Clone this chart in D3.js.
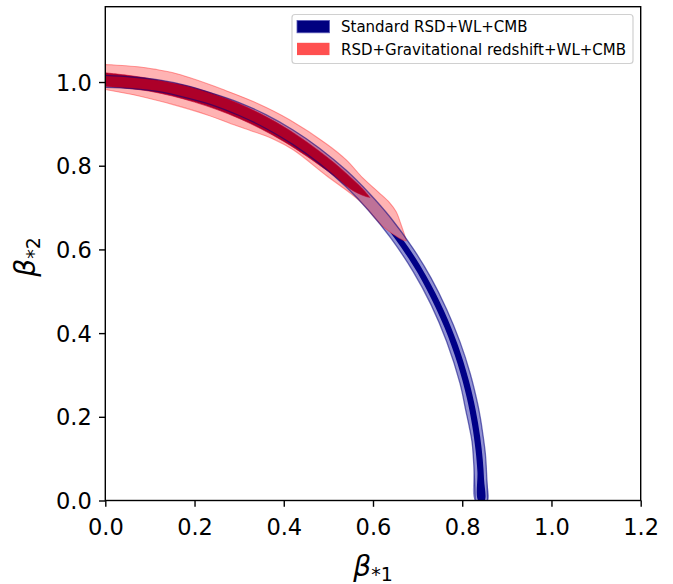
<!DOCTYPE html>
<html>
<head>
<meta charset="utf-8">
<script src="https://cdn.jsdelivr.net/npm/d3@7"></script>
<style>
  html, body { margin: 0; padding: 0; background: #ffffff; }
  svg { display: block; }
  text { font-family: "DejaVu Sans", sans-serif; }
</style>
</head>
<body>
<svg id="chart" width="673" height="584"></svg>
<script>
// ---------- data ----------
const xTicks = [0.0, 0.2, 0.4, 0.6, 0.8, 1.0, 1.2];
const yTicks = [0.0, 0.2, 0.4, 0.6, 0.8, 1.0];
const seriesNames = ["Standard RSD+WL+CMB", "RSD+Gravitational redshift+WL+CMB"];

// Standard RSD+WL+CMB: 95% contour (outer / inner boundary) and 68% contour
const blue95Outer = [[0.000,1.016],[0.060,1.012],[0.120,1.005],[0.180,0.992],[0.240,0.973],[0.300,0.951],[0.360,0.922],[0.420,0.886],[0.480,0.842],[0.540,0.789],[0.590,0.736],[0.640,0.675],[0.690,0.602],[0.730,0.532],[0.765,0.457],[0.795,0.379],[0.818,0.303],[0.835,0.229],[0.841,0.195],[0.846,0.160],[0.852,0.110],[0.855,0.055],[0.857,0.000]];
const blue95Inner = [[0.000,0.987],[0.060,0.984],[0.120,0.977],[0.180,0.963],[0.240,0.945],[0.300,0.920],[0.360,0.889],[0.420,0.851],[0.480,0.805],[0.540,0.749],[0.590,0.693],[0.640,0.627],[0.690,0.547],[0.730,0.468],[0.765,0.380],[0.795,0.280],[0.808,0.215],[0.816,0.175],[0.822,0.140],[0.826,0.084],[0.829,0.000]];
const blue68Outer = [[0.000,1.007],[0.100,1.000],[0.200,0.979],[0.300,0.942],[0.400,0.888],[0.500,0.814],[0.560,0.758],[0.620,0.689],[0.680,0.604],[0.720,0.535],[0.760,0.451],[0.790,0.372],[0.815,0.286],[0.830,0.217],[0.840,0.154],[0.846,0.098],[0.849,0.049],[0.850,0.000]];
const blue68Inner = [[0.000,0.993],[0.100,0.986],[0.200,0.964],[0.300,0.927],[0.400,0.872],[0.500,0.796],[0.560,0.737],[0.620,0.666],[0.680,0.578],[0.720,0.505],[0.760,0.414],[0.790,0.325],[0.810,0.246],[0.822,0.181],[0.830,0.119],[0.834,0.069],[0.836,0.000]];

// RSD+Gravitational redshift+WL+CMB: 95% and 68% contours (upper / lower boundary)
const red95Upper = [[0.000,1.042],[0.078,1.036],[0.115,1.030],[0.152,1.022],[0.190,1.010],[0.264,0.982],[0.339,0.950],[0.413,0.910],[0.496,0.852],[0.540,0.814],[0.577,0.771],[0.612,0.737],[0.637,0.712],[0.652,0.690],[0.663,0.659],[0.671,0.634],[0.675,0.621]];
const red95Lower = [[0.000,0.982],[0.078,0.966],[0.152,0.946],[0.227,0.922],[0.301,0.893],[0.376,0.864],[0.421,0.838],[0.496,0.776],[0.570,0.716],[0.622,0.655],[0.650,0.633],[0.668,0.622],[0.675,0.621]];
const red68Upper = [[0.000,1.022],[0.050,1.016],[0.100,1.008],[0.200,0.986],[0.300,0.948],[0.400,0.893],[0.500,0.818],[0.550,0.772],[0.580,0.741],[0.593,0.724]];
const red68Lower = [[0.000,0.990],[0.100,0.978],[0.200,0.952],[0.300,0.913],[0.400,0.858],[0.500,0.786],[0.550,0.744],[0.580,0.728],[0.593,0.724]];

// ---------- layout ----------
const svg = d3.select("#chart");
const margin = {left: 105.3, right: 673 - 640.7, top: 6.7, bottom: 584 - 500.5};
const W = 673, H = 584;
const x = d3.scaleLinear().domain([0, 1.2]).range([margin.left, W - margin.right]);
const y = d3.scaleLinear().domain([0, 1.18]).range([H - margin.bottom, margin.top]);

const defs = svg.append("defs");
defs.append("clipPath").attr("id", "plotclip")
  .append("rect")
  .attr("x", x(0)).attr("y", y(1.18))
  .attr("width", x(1.2) - x(0)).attr("height", y(0) - y(1.18));

const smooth = d3.line().x(d => x(d[0])).y(d => y(d[1])).curve(d3.curveCatmullRom.alpha(0.5));
const band = (a, b) => smooth(a.concat(b.slice().reverse())) + "Z";
const openLine = pts => smooth(pts);

const red95Path = band(red95Upper, red95Lower);

// mask: the navy 68% region is hidden where the red 95% region lies on top
const mask = defs.append("mask").attr("id", "redmask").attr("maskUnits", "userSpaceOnUse")
  .attr("x", 0).attr("y", 0).attr("width", W).attr("height", H);
mask.append("rect").attr("x", 0).attr("y", 0).attr("width", W).attr("height", H).attr("fill", "white");
mask.append("path").attr("d", red95Path).attr("fill", "black");

const plot = svg.append("g").attr("clip-path", "url(#plotclip)");

// blue 95%
plot.append("path").attr("d", band(blue95Outer, blue95Inner))
  .attr("fill", "#9393d3").attr("stroke", "none");
// blue 68%
plot.append("path").attr("d", band(blue68Outer, blue68Inner))
  .attr("fill", "#000087").attr("stroke", "none").attr("mask", "url(#redmask)");
// red 95% (translucent)
plot.append("path").attr("d", red95Path)
  .attr("fill", "#ff4040").attr("fill-opacity", 0.4)
  .attr("stroke", "#ff3030").attr("stroke-opacity", 0.45).attr("stroke-width", 1.1);
// red 68%
plot.append("path").attr("d", band(red68Upper, red68Lower))
  .attr("fill", "#ad0029").attr("stroke", "#c00030").attr("stroke-width", 0.6);
// blue 95% edges
[blue95Outer, blue95Inner].forEach(pts => {
  plot.append("path").attr("d", openLine(pts))
    .attr("fill", "none").attr("stroke", "#000080").attr("stroke-opacity", 0.55).attr("stroke-width", 1.3);
});

// ---------- axes ----------
const tickLen = 6.3, lw = 1.4;
const fmt = d3.format(".1f");
const axisG = svg.append("g");

// frame
axisG.append("rect")
  .attr("x", x(0)).attr("y", y(1.18))
  .attr("width", x(1.2) - x(0)).attr("height", y(0) - y(1.18))
  .attr("fill", "none").attr("stroke", "#000").attr("stroke-width", lw);

const xAxis = d3.axisBottom(x).tickValues(xTicks).tickFormat(fmt).tickSizeOuter(0).tickSizeInner(tickLen).tickPadding(9);
const gx = svg.append("g").attr("transform", `translate(0,${y(0)})`).call(xAxis);
gx.select(".domain").remove();
gx.selectAll(".tick line").attr("stroke", "#000").attr("stroke-width", lw);
gx.selectAll(".tick text").attr("font-size", 22.5).attr("fill", "#000")
  .attr("font-family", "DejaVu Sans").attr("dy", null).attr("y", 34.5)
  .attr("dominant-baseline", "auto");

const yAxis = d3.axisLeft(y).tickValues(yTicks).tickFormat(fmt).tickSizeOuter(0).tickSizeInner(tickLen).tickPadding(7);
const gy = svg.append("g").attr("transform", `translate(${x(0)},0)`).call(yAxis);
gy.select(".domain").remove();
gy.selectAll(".tick line").attr("stroke", "#000").attr("stroke-width", lw);
gy.selectAll(".tick text").attr("font-size", 22.5).attr("fill", "#000")
  .attr("font-family", "DejaVu Sans").attr("dy", "0.36em").attr("x", -13.5);

// axis labels
const xl = svg.append("text")
  .attr("x", 373).attr("y", 576).attr("text-anchor", "middle")
  .attr("font-size", 28).attr("fill", "#000");
xl.append("tspan").attr("font-style", "italic").text("β");
xl.append("tspan").attr("font-size", 19).attr("dy", 5).text("*1");

const yl = svg.append("text")
  .attr("transform", "translate(35,257) rotate(-90)")
  .attr("text-anchor", "middle").attr("font-size", 28).attr("fill", "#000");
yl.append("tspan").attr("font-style", "italic").text("β");
yl.append("tspan").attr("font-size", 19).attr("dy", 5).text("*2");

// ---------- legend ----------
const lg = svg.append("g");
lg.append("rect")
  .attr("x", 292).attr("y", 14.5).attr("width", 341).attr("height", 49)
  .attr("rx", 3).attr("ry", 3)
  .attr("fill", "#ffffff").attr("fill-opacity", 0.8)
  .attr("stroke", "#d0d0d0").attr("stroke-width", 1.2);
const legendFills = ["#000080", "#ff5050"];
seriesNames.forEach((name, i) => {
  const yy = 20.5 + i * 22.3;
  lg.append("rect")
    .attr("x", 297).attr("y", yy).attr("width", 32.5).attr("height", 12.3)
    .attr("fill", legendFills[i])
    .attr("stroke", i === 0 ? "#5a5ab8" : "none").attr("stroke-width", 0.8);
  lg.append("text")
    .attr("x", 341).attr("y", yy + 11.8)
    .attr("font-size", 15).attr("fill", "#000")
    .text(name);
});
</script>
</body>
</html>
